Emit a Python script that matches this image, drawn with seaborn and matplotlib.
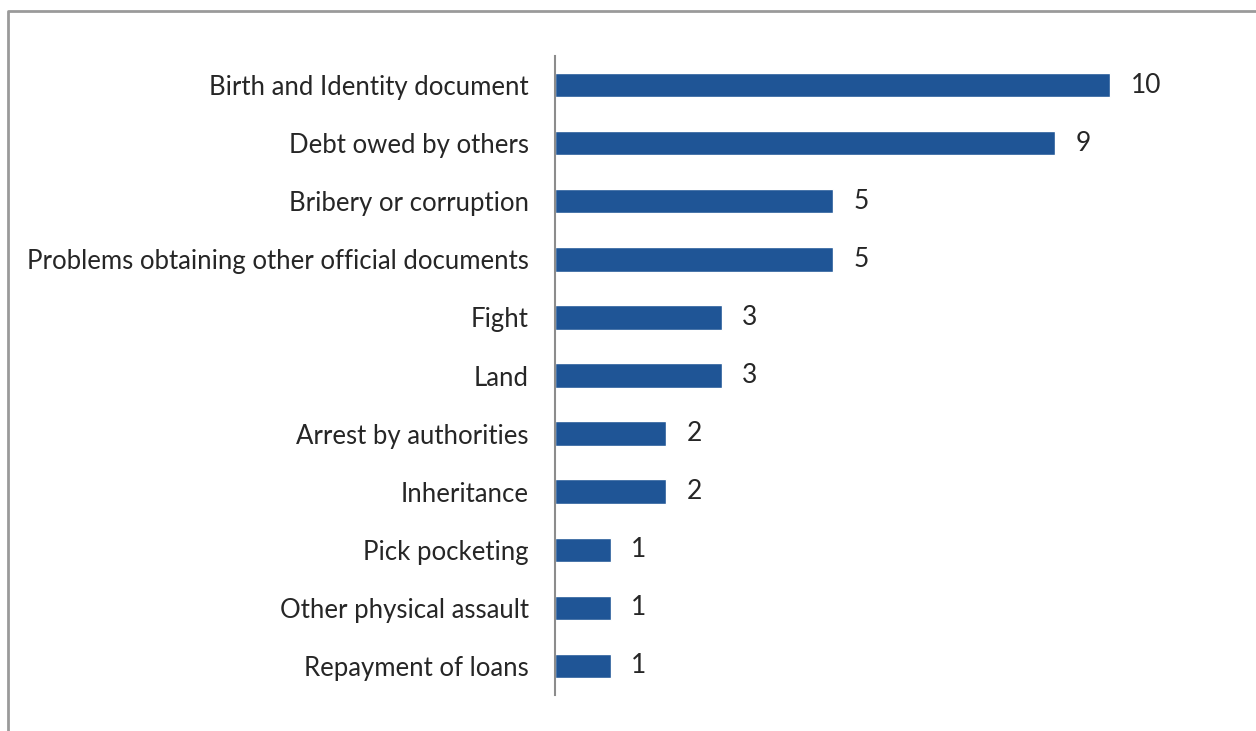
import matplotlib
matplotlib.use("Agg")
import matplotlib.pyplot as plt
from matplotlib.lines import Line2D
import seaborn as sns
import pandas as pd

categories = [
    "Birth and Identity document",
    "Debt owed by others",
    "Bribery or corruption",
    "Problems obtaining other official documents",
    "Fight",
    "Land",
    "Arrest by authorities",
    "Inheritance",
    "Pick pocketing",
    "Other physical assault",
    "Repayment of loans",
]
counts = [10, 9, 5, 5, 3, 3, 2, 2, 1, 1, 1]

df = pd.DataFrame({"category": categories, "count": counts})

sns.set_theme(style="white")
plt.rcParams["font.family"] = ["Lato", "DejaVu Sans"]

fig = plt.figure(figsize=(12.56, 7.31), dpi=100)
ax = fig.add_axes([555 / 1256, 1 - 695 / 731, (1221 - 555) / 1256, (695 - 56) / 731])

sns.barplot(data=df, x="count", y="category", orient="h", color="#1f5596",
            saturation=1, width=0.42, ax=ax)

ax.set_xlim(0, 12)
ax.set_ylim(10.5, -0.5)
ax.set_xlabel("")
ax.set_ylabel("")
ax.set_xticks([])
for s in ["top", "right", "bottom"]:
    ax.spines[s].set_visible(False)
ax.spines["left"].set_color("#8c8c8c")
ax.spines["left"].set_linewidth(1.5)
ax.tick_params(axis="y", length=0, pad=19, labelsize=18.5, labelcolor="#262626")

for c in ax.containers:
    ax.bar_label(c, labels=[str(v) for v in counts], padding=15,
                 fontsize=19, color="#262626")

# outer chart frame (top and left edges)
fig.add_artist(Line2D([8 / 1256, 8 / 1256, 1.0], [0.0, 1 - 11 / 731, 1 - 11 / 731],
                      transform=fig.transFigure, color="#9a9a9a", linewidth=2))

fig.savefig("out.png", dpi=100)
